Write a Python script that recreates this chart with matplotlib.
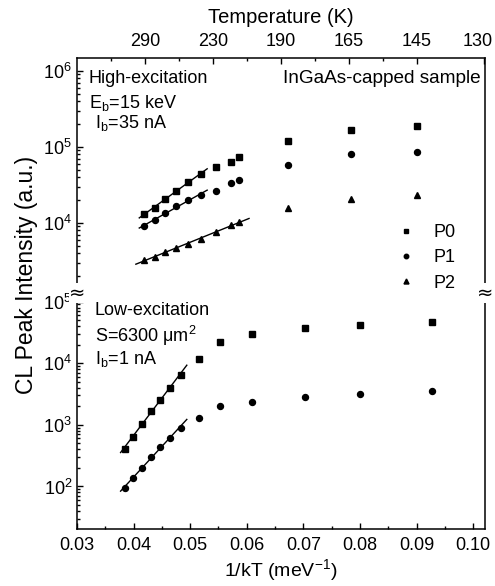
import numpy as np
import matplotlib.pyplot as plt
from matplotlib.ticker import LogLocator, NullFormatter
from matplotlib.transforms import ScaledTranslation

plt.rcParams['font.family'] = ['Liberation Sans', 'DejaVu Sans']
plt.rcParams['mathtext.fontset'] = 'custom'
plt.rcParams['mathtext.rm'] = 'Liberation Sans'
plt.rcParams['mathtext.it'] = 'Liberation Sans:italic'
plt.rcParams['mathtext.bf'] = 'Liberation Sans:bold'

# High-excitation (top panel)
hi_x = [0.0419, 0.0437, 0.0455, 0.0475, 0.0497, 0.0519, 0.0545, 0.0572, 0.0587,
        0.0673, 0.0784, 0.0901]
hi_p0 = [1.31e4, 1.59e4, 2.05e4, 2.66e4, 3.5e4, 4.4e4, 5.4e4, 6.4e4, 7.4e4,
         1.2e5, 1.66e5, 1.89e5]
hi_p1 = [9.2e3, 1.09e4, 1.34e4, 1.68e4, 2.0e4, 2.34e4, 2.66e4, 3.33e4, 3.68e4,
         5.8e4, 8.2e4, 8.7e4]
hi_p2 = [3.3e3, 3.6e3, 4.1e3, 4.65e3, 5.25e3, 6.2e3, 7.7e3, 9.3e3, 1.04e4,
         1.59e4, 2.05e4, 2.3e4]

# Low-excitation (bottom panel)
lo_x = [0.0384, 0.0399, 0.0414, 0.0430, 0.0446, 0.0464, 0.0483, 0.0516, 0.0553,
        0.0610, 0.0703, 0.0800, 0.0928]
lo_p0 = [410, 646, 1030, 1645, 2540, 3935, 6530, 1.17e4, 2.19e4, 2.98e4, 3.69e4,
         4.18e4, 4.62e4]
lo_p1 = [94, 137, 199, 300, 429, 609, 901, 1313, 2032, 2388, 2813, 3146, 3556]

# top axis (temperature) ticks as drawn in the figure
temp_pos = [0.042, 0.054, 0.066, 0.078, 0.090, 0.102]
temp_labels = ['290', '230', '190', '165', '145', '130']
temp_minor = [0.036, 0.048, 0.060, 0.072, 0.084]

bottom_ticks = [0.03, 0.04, 0.05, 0.06, 0.07, 0.08, 0.09, 0.10]


def droite(x, y, n, x0, x1):
    # linear fit of log10(I) vs 1/kT on the first n points
    c = np.polyfit(np.array(x[:n]), np.log10(y[:n]), 1)
    xf = np.linspace(x0, x1, 2)
    return xf, 10 ** np.polyval(c, xf)


fig = plt.figure(figsize=(4.95, 5.86), dpi=100)
ax1 = fig.add_axes([0.1556, 0.4949, 0.8242, 0.4061])
ax2 = fig.add_axes([0.1556, 0.0973, 0.8242, 0.3976])

ms = 4.3
ax1.plot(hi_x, hi_p0, 's', color='k', ms=ms, label='P0')
ax1.plot(hi_x, hi_p1, 'o', color='k', ms=ms, label='P1')
ax1.plot(hi_x, hi_p2, '^', color='k', ms=ms + 0.5, label='P2')
for yy, n, x0, x1 in [(hi_p0, 6, 0.0410, 0.0530), (hi_p1, 6, 0.0410, 0.0530),
                      (hi_p2, 9, 0.0404, 0.0604)]:
    xf, yf = droite(hi_x, yy, n, x0, x1)
    ax1.plot(xf, yf, '-', color='k', lw=1.0)

ax2.plot(lo_x, lo_p0, 's', color='k', ms=ms)
ax2.plot(lo_x, lo_p1, 'o', color='k', ms=ms)
for yy in [lo_p0, lo_p1]:
    xf, yf = droite(lo_x, yy, 7, 0.0377, 0.0494)
    ax2.plot(xf, yf, '-', color='k', lw=1.0)

for ax in (ax1, ax2):
    ax.set_yscale('log')
    ax.set_xlim(0.03, 0.1021)
    ax.yaxis.set_major_locator(LogLocator(base=10, numticks=20))
    ax.yaxis.set_minor_locator(LogLocator(base=10, subs=np.arange(2, 10), numticks=20))
    ax.yaxis.set_minor_formatter(NullFormatter())
    ax.tick_params(which='both', direction='in', labelsize=13, width=1.0)
    ax.tick_params(which='major', length=4.5)
    ax.tick_params(which='minor', length=2.5)
    for s in ax.spines.values():
        s.set_linewidth(1.1)

ax1.set_ylim(10 ** 3.04, 10 ** 6.17)
ax2.set_ylim(10 ** 1.31, 10 ** 5.09)

ax1.spines['bottom'].set_visible(False)
ax2.spines['top'].set_visible(False)

ax1.xaxis.tick_top()
ax1.xaxis.set_label_position('top')
ax1.set_xticks(temp_pos, temp_labels)
ax1.set_xticks(temp_minor, minor=True)
ax1.tick_params(axis='x', which='both', bottom=False, top=True, pad=6)
ax1.tick_params(axis='y', which='both', right=False)
ax1.set_xlabel('Temperature (K)', fontsize=14.5, labelpad=7)
# last temperature label sits a little left of its tick in the original
dernier = ax1.get_xticklabels()[-1]
dernier.set_transform(dernier.get_transform() + ScaledTranslation(-5 / 72, 0, fig.dpi_scale_trans))

ax2.set_xticks(bottom_ticks, ['%.2f' % t for t in bottom_ticks])
ax2.set_xticks(np.array(bottom_ticks[:-1]) + 0.005, minor=True)
ax2.tick_params(axis='x', which='both', top=False, pad=6)
ax2.tick_params(axis='y', which='both', right=False)
ax2.set_xlabel('1/kT (meV$^{-1}$)', fontsize=14, labelpad=2)

fig.text(0.054, 1 - 275 / 586, 'CL Peak Intensity (a.u.)', rotation=90, fontsize=16.5,
         ha='center', va='center')

# annotations
ax1.text(0.029, 0.915, 'High-excitation', transform=ax1.transAxes, fontsize=13, va='center')
ax1.text(0.029, 0.812, 'E$_\\mathrm{b}$=15 keV', transform=ax1.transAxes, fontsize=13, va='center')
ax1.text(0.044, 0.726, 'I$_\\mathrm{b}$=35 nA', transform=ax1.transAxes, fontsize=13, va='center')
ax1.text(0.504, 0.915, 'InGaAs-capped sample', transform=ax1.transAxes, fontsize=13.7, va='center')

ax2.text(0.044, 0.937, 'Low-excitation', transform=ax2.transAxes, fontsize=13, va='center')
ax2.text(0.044, 0.827, 'S=6300 \u03bcm$^2$', transform=ax2.transAxes, fontsize=13, va='center')
ax2.text(0.044, 0.73, 'I$_\\mathrm{b}$=1 nA', transform=ax2.transAxes, fontsize=13, va='center')

ax1.legend(loc='center left', bbox_to_anchor=(0.745, 0.16), frameon=False, fontsize=13,
           handlelength=1.0, handletextpad=1.0, labelspacing=0.45, markerscale=0.75)

# axis-break marks
for xf in (0.1556, 0.9798):
    fig.text(xf, 1 - 293 / 586, '\u2248', fontsize=14, ha='center', va='center',
             family='DejaVu Sans',
             bbox=dict(facecolor='white', edgecolor='none', pad=0.2))

fig.savefig('out.png', dpi=100)
